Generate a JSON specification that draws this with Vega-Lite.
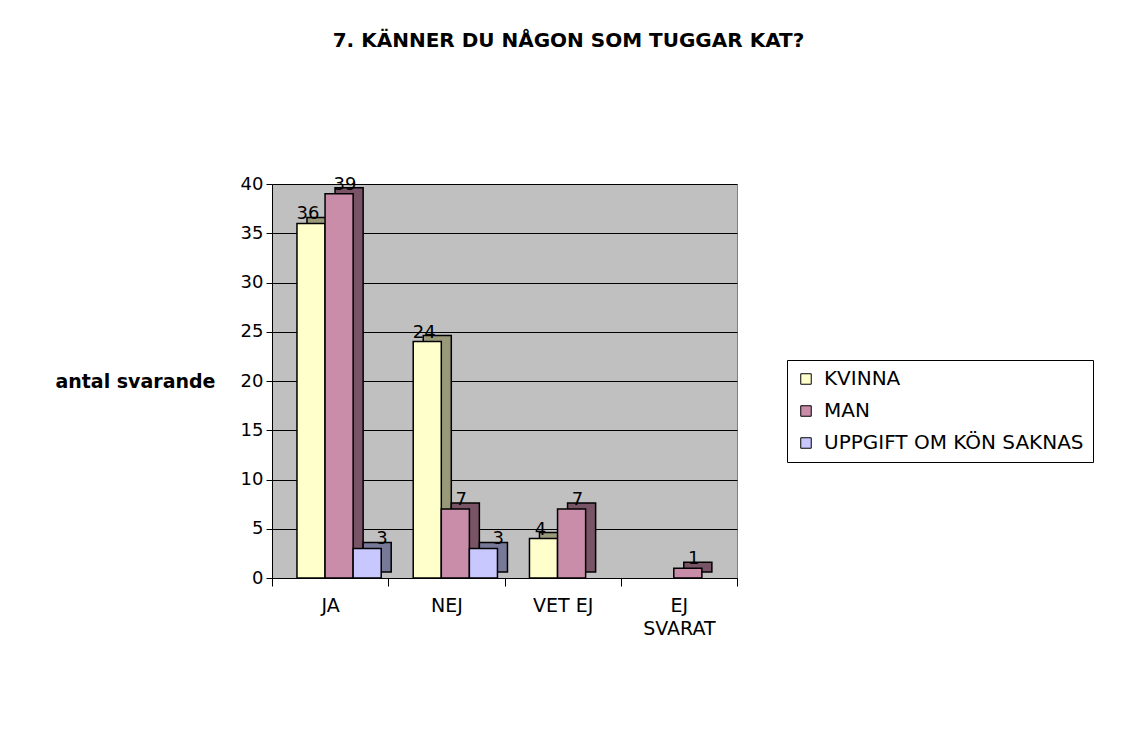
{
  "$schema": "https://vega.github.io/schema/vega-lite/v6.json",
  "width": 465,
  "height": 394,
  "autosize": {"type": "none"},
  "padding": {"left": 272, "top": 184, "right": 390, "bottom": 166},
  "background": "white",
  "config": {
    "font": "DejaVu Sans",
    "view": {"fill": "#C0C0C0", "stroke": "#808080"}
  },
  "title": {
    "text": "7. KÄNNER DU NÅGON SOM TUGGAR KAT?",
    "font": "DejaVu Sans",
    "fontSize": 20,
    "fontWeight": "bold",
    "color": "black",
    "anchor": "middle",
    "frame": "group",
    "dx": 64,
    "offset": 124
  },
  "data": {
    "values": [
      {"svar": "JA", "kon": "KVINNA", "antal": 36},
      {"svar": "JA", "kon": "MAN", "antal": 39},
      {"svar": "JA", "kon": "UPPGIFT OM KÖN SAKNAS", "antal": 3},
      {"svar": "NEJ", "kon": "KVINNA", "antal": 24},
      {"svar": "NEJ", "kon": "MAN", "antal": 7},
      {"svar": "NEJ", "kon": "UPPGIFT OM KÖN SAKNAS", "antal": 3},
      {"svar": "VET EJ", "kon": "KVINNA", "antal": 4},
      {"svar": "VET EJ", "kon": "MAN", "antal": 7},
      {"svar": "EJ SVARAT", "kon": "MAN", "antal": 1}
    ]
  },
  "encoding": {
    "x": {
      "field": "svar",
      "type": "nominal",
      "sort": ["JA", "NEJ", "VET EJ", "EJ SVARAT"],
      "scale": {"paddingInner": 0, "paddingOuter": 0},
      "axis": {
        "title": null,
        "labelAngle": 0,
        "labelFontSize": 19,
        "labelColor": "black",
        "domainColor": "black",
        "tickColor": "black",
        "tickBand": "extent",
        "tickSize": 8,
        "labelPadding": 10,
        "labelLineHeight": 23,
        "labelExpr": "datum.label == 'EJ SVARAT' ? ['EJ', 'SVARAT'] : datum.label",
        "grid": false
      }
    },
    "y": {
      "field": "antal",
      "type": "quantitative",
      "scale": {"domain": [0, 40], "nice": false},
      "axis": {
        "title": "antal svarande",
        "titleAngle": 0,
        "titleAlign": "right",
        "titleBaseline": "middle",
        "titleX": -57,
        "titleY": 197,
        "titleFontSize": 19,
        "titleFontWeight": "bold",
        "titleColor": "black",
        "labelFontSize": 18,
        "labelColor": "black",
        "values": [0, 5, 10, 15, 20, 25, 30, 35, 40],
        "grid": true,
        "gridColor": "black",
        "gridOpacity": 1,
        "domainColor": "black",
        "tickColor": "black",
        "tickSize": 6,
        "labelPadding": 3
      }
    },
    "color": {
      "field": "kon",
      "type": "nominal",
      "sort": ["KVINNA", "MAN", "UPPGIFT OM KÖN SAKNAS"],
      "scale": {"range": ["#FFFFCC", "#C98DAA", "#C8C8FF"]},
      "legend": {
        "orient": "none",
        "legendX": 515,
        "legendY": 176,
        "title": null,
        "strokeColor": "black",
        "fillColor": "white",
        "padding": 9,
        "labelFontSize": 20,
        "labelColor": "black",
        "labelLimit": 400,
        "labelOffset": 8,
        "symbolType": "square",
        "symbolSize": 110,
        "symbolStrokeColor": "black",
        "symbolStrokeWidth": 1,
        "rowPadding": 12
      }
    }
  },
  "resolve": {"scale": {"xOffset": "independent"}},
  "layer": [
    {
      "mark": {"type": "bar", "yOffset": -6, "stroke": "black", "strokeWidth": 1.5},
      "encoding": {
        "xOffset": {
          "field": "kon",
          "type": "nominal",
          "sort": ["KVINNA", "MAN", "UPPGIFT OM KÖN SAKNAS"],
          "scale": {"paddingInner": 0, "paddingOuter": 0.57, "align": 0.78, "range": [10, 126.25]}
        }
      }
    },
    {
      "mark": {"type": "bar", "yOffset": -6, "opacity": 0.4},
      "encoding": {
        "color": {"value": "black"},
        "xOffset": {
          "field": "kon",
          "type": "nominal",
          "sort": ["KVINNA", "MAN", "UPPGIFT OM KÖN SAKNAS"],
          "scale": {"paddingInner": 0, "paddingOuter": 0.57, "align": 0.78, "range": [10, 126.25]}
        }
      }
    },
    {
      "mark": {"type": "bar", "stroke": "black", "strokeWidth": 1.5},
      "encoding": {
        "xOffset": {
          "field": "kon",
          "type": "nominal",
          "sort": ["KVINNA", "MAN", "UPPGIFT OM KÖN SAKNAS"],
          "scale": {"paddingInner": 0, "paddingOuter": 0.57, "align": 0.78}
        }
      }
    },
    {
      "mark": {"type": "text", "baseline": "bottom", "dx": 3, "fontSize": 18},
      "encoding": {
        "xOffset": {
          "field": "kon",
          "type": "nominal",
          "sort": ["KVINNA", "MAN", "UPPGIFT OM KÖN SAKNAS"],
          "scale": {"paddingInner": 0, "paddingOuter": 0.57, "align": 0.78}
        },
        "text": {"field": "antal", "type": "quantitative"},
        "color": {"value": "black"}
      }
    }
  ]
}
